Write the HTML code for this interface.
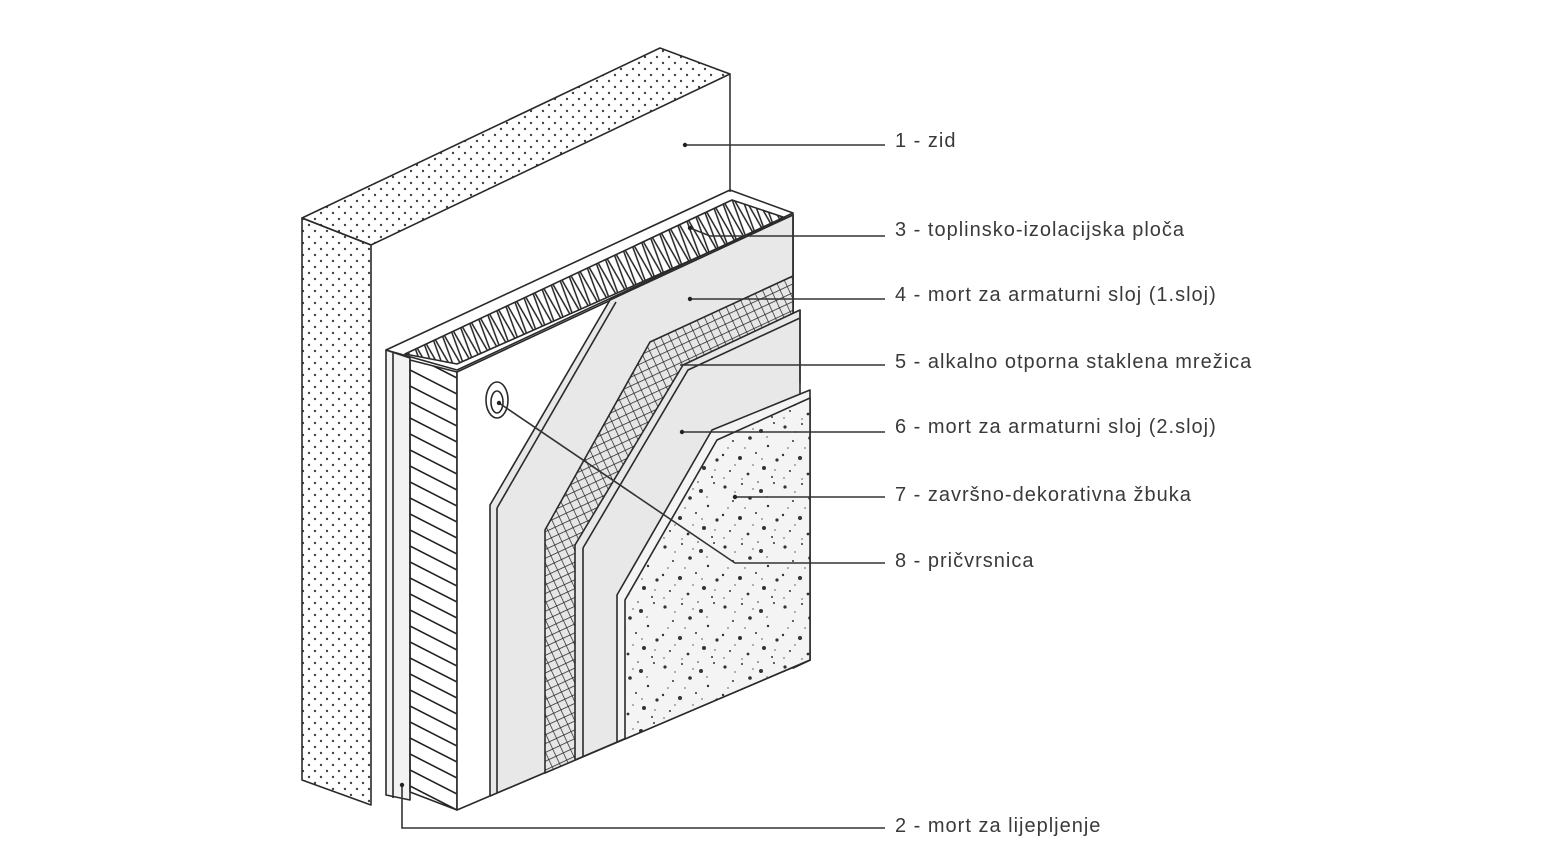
<!DOCTYPE html>
<html><head><meta charset="utf-8"><style>
html,body{margin:0;padding:0;background:#fff;}
svg{display:block}
text{font-family:"Liberation Sans",sans-serif;font-size:20px;fill:#3a3a3a;letter-spacing:1px;}
</style></head><body>
<svg width="1560" height="868" viewBox="0 0 1560 868" xmlns="http://www.w3.org/2000/svg">
<defs>
<pattern id="dots" width="12" height="12" patternUnits="userSpaceOnUse">
<circle cx="3" cy="3" r="1.2" fill="#444"/><circle cx="9" cy="9" r="1.2" fill="#444"/>
</pattern>
<pattern id="hatchV" width="47" height="16" patternUnits="userSpaceOnUse" x="410" y="360">
<path d="M0 -6 L47 18 M0 10 L47 34 M0 -22 L47 2" stroke="#222" stroke-width="1.6" fill="none"/>
</pattern>
<pattern id="zig" width="10" height="60" patternUnits="userSpaceOnUse" patternTransform="rotate(-25)">
<path d="M0 0 L5 60 L10 0" stroke="#222" stroke-width="1.5" fill="none"/>
</pattern>
<pattern id="mesh" width="8" height="8" patternUnits="userSpaceOnUse" patternTransform="rotate(-25)">
<rect width="8" height="8" fill="#e6e6e6"/>
<path d="M0 0 H8 M0 0 V8" stroke="#222" stroke-width="1.4"/>
</pattern>
<pattern id="speck" width="60" height="60" patternUnits="userSpaceOnUse">
<rect width="60" height="60" fill="#f4f4f4"/>
<g fill="#333">
<circle cx="5" cy="7" r="1.6"/><circle cx="22" cy="4" r="1"/><circle cx="41" cy="11" r="2"/><circle cx="54" cy="3" r="1"/>
<circle cx="13" cy="21" r="1"/><circle cx="30" cy="18" r="1.8"/><circle cx="48" cy="26" r="1.2"/><circle cx="3" cy="35" r="1.2"/>
<circle cx="20" cy="38" r="2"/><circle cx="36" cy="33" r="1"/><circle cx="57" cy="40" r="1.6"/><circle cx="10" cy="51" r="1"/>
<circle cx="28" cy="54" r="1.4"/><circle cx="44" cy="48" r="2"/><circle cx="52" cy="57" r="1"/><circle cx="38" cy="2" r="0.8"/>
</g>
<g fill="#999">
<circle cx="15" cy="12" r="1"/><circle cx="33" cy="9" r="1"/><circle cx="47" cy="17" r="1"/><circle cx="8" cy="28" r="1"/>
<circle cx="25" cy="28" r="1"/><circle cx="42" cy="39" r="1"/><circle cx="15" cy="45" r="1"/><circle cx="55" cy="50" r="1"/>
<circle cx="33" cy="45" r="1"/><circle cx="4" cy="58" r="1"/><circle cx="22" cy="59" r="1"/>
</g>
</pattern>
</defs>
<g stroke="#2a2a2a" stroke-width="1.6" stroke-linejoin="round">
<!-- wall -->
<polygon points="371,245 730,74 730,805 371,805" fill="#fff" stroke="none"/>
<polygon points="302,218 660,48 730,74 371,245" fill="url(#dots)"/>
<polygon points="302,218 371,245 371,805 302,780" fill="url(#dots)"/>
<!-- adhesive -->
<polygon points="386,350 410,358 410,800 386,795" fill="#f2f2f2"/>
<line x1="393" y1="353" x2="393" y2="798"/>
<!-- insulation top -->
<polygon points="386,350 730,190 793,213 457,370" fill="#fff"/>
<polygon points="405,354 732,200 786,218 457,364" fill="url(#zig)"/>
<!-- insulation side -->
<polygon points="410,360 457,372 457,810 410,792" fill="url(#hatchV)"/>
<!-- insulation front -->
<polygon points="457,372 793,215 793,668 810,660 457,810" fill="#fff"/>
<!-- mortar 1 -->
<polygon points="490,505 610,300 793,215 793,668 810,660 490,796" fill="#e8e8e8"/>
<polyline points="497,508 616,302" fill="none"/>
<line x1="497" y1="508" x2="497" y2="793"/>
<!-- mesh -->
<polygon points="545,530 650,342 793,276 793,668 810,660 545,773" fill="url(#mesh)"/>
<!-- mortar 2 -->
<polygon points="575,545 683,365 800,310 800,664 810,660 575,760" fill="#e8e8e8"/>
<polyline points="583,548 688,370 800,318" fill="none"/>
<line x1="583" y1="548" x2="583" y2="757"/>
<!-- plaster -->
<polygon points="617,595 712,430 810,390 810,660 617,742" fill="#f4f4f4"/>
<polygon points="625,600 717,440 810,398 810,660 625,739" fill="url(#speck)"/>
<!-- fastener -->
<ellipse cx="497" cy="400" rx="11" ry="18" fill="#fff"/>
<ellipse cx="497" cy="402" rx="6" ry="11" fill="#fff"/>
</g>
<!-- leaders -->
<g stroke="#333" stroke-width="1.6" fill="none">
<line x1="730" y1="74" x2="730" y2="192"/>
<line x1="793" y1="213" x2="793" y2="300"/>
<line x1="800" y1="310" x2="800" y2="383"/>
<line x1="685" y1="145" x2="885" y2="145"/>
<polyline points="690,228 710,236 885,236"/>
<line x1="690" y1="299" x2="885" y2="299"/>
<line x1="680" y1="365" x2="885" y2="365"/>
<line x1="682" y1="432" x2="885" y2="432"/>
<line x1="735" y1="497" x2="885" y2="497"/>
<polyline points="499,403 735,563 885,563"/>
<polyline points="402,785 402,828 885,828"/>
</g>
<g fill="#222">
<circle cx="685" cy="145" r="2.2"/><circle cx="690" cy="228" r="2.2"/><circle cx="690" cy="299" r="2.2"/>
<circle cx="682" cy="432" r="2.2"/><circle cx="735" cy="497" r="2.2"/><circle cx="499" cy="403" r="2.2"/><circle cx="402" cy="785" r="2.2"/>
</g>
<text x="895" y="147">1 - zid</text>
<text x="895" y="236">3 - toplinsko-izolacijska ploča</text>
<text x="895" y="301">4 - mort za armaturni sloj (1.sloj)</text>
<text x="895" y="368">5 - alkalno otporna staklena mrežica</text>
<text x="895" y="433">6 - mort za armaturni sloj (2.sloj)</text>
<text x="895" y="501">7 - završno-dekorativna žbuka</text>
<text x="895" y="567">8 - pričvrsnica</text>
<text x="895" y="832">2 - mort za lijepljenje</text>
</svg>
</body></html>
